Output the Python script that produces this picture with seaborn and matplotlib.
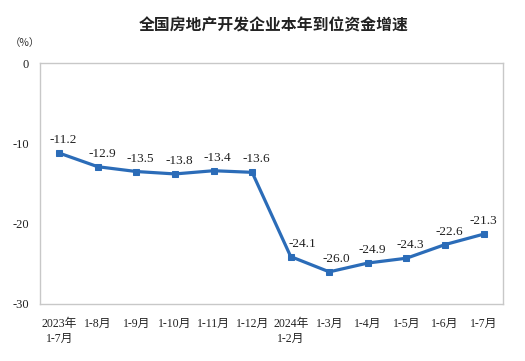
import numpy as np
import pandas as pd
import matplotlib
matplotlib.use('Agg')
import matplotlib.pyplot as plt
import seaborn as sns

months = ['2023年\n1-7月', '1-8月', '1-9月', '1-10月', '1-11月', '1-12月',
          '2024年\n1-2月', '1-3月', '1-4月', '1-5月', '1-6月', '1-7月']
growth = [-11.2, -12.9, -13.5, -13.8, -13.4, -13.6,
          -24.1, -26.0, -24.9, -24.3, -22.6, -21.3]
yticks = [0, -10, -20, -30]

sns.set_style('white')
plt.rcParams['font.family'] = ['Liberation Serif', 'Noto Sans CJK SC']

df = pd.DataFrame({'idx': range(len(months)), 'growth': growth})

fig = plt.figure(figsize=(5.25, 3.61), dpi=100)
ax = fig.add_axes([0.076, 0.158, 0.882, 0.667])

line_color = '#2b6cb8'
sns.lineplot(data=df, x='idx', y='growth', ax=ax, color=line_color,
             linewidth=2.3, marker='s', markersize=5,
             markeredgecolor=line_color, markerfacecolor=line_color)

# label offsets in points (the 2024 1-2 label sits right of the line)
for i, v in enumerate(growth):
    dx = 3
    if i == 6:
        dx = 8.5
    elif i == 7:
        dx = 5
    elif i == 11:
        dx = 0
    ax.annotate(f'{v:.1f}', (i, v), xytext=(dx, 5), textcoords='offset points',
                ha='center', va='bottom', fontsize=9.5, color='#222222')

ax.set_xlim(-0.5, len(months) - 0.5)
ax.set_ylim(-30, 0)
ax.set_yticks(yticks)
ax.set_yticklabels([str(t) for t in yticks], fontsize=9, color='#222222')
ax.set_xticks(range(len(months)))
ax.set_xticklabels(months, fontsize=8.5, color='#222222', linespacing=1.3)
ax.set_xticks(np.arange(0.5, len(months) - 1, 1), minor=True)
ax.tick_params(axis='x', which='major', length=0, pad=10)
ax.tick_params(axis='x', which='minor', direction='in', length=4, color='#bbbbbb')
ax.tick_params(axis='y', which='major', direction='out', length=2, color='#bbbbbb', pad=6)
ax.set_xlabel('')
ax.set_ylabel('')
for s in ax.spines.values():
    s.set_color('#c8c8c8')
    s.set_linewidth(1)

fig.text(0.522, 0.929, '全国房地产开发企业本年到位资金增速', ha='center', va='center',
         fontsize=11.4, fontweight='bold', family=['Noto Sans CJK SC'], color='#222222')
fig.text(0.048, 0.882, '（%）', ha='center', va='center', fontsize=7.5,
         family=['Noto Sans CJK SC'], color='#333333')

fig.savefig('out.png', dpi=100)
